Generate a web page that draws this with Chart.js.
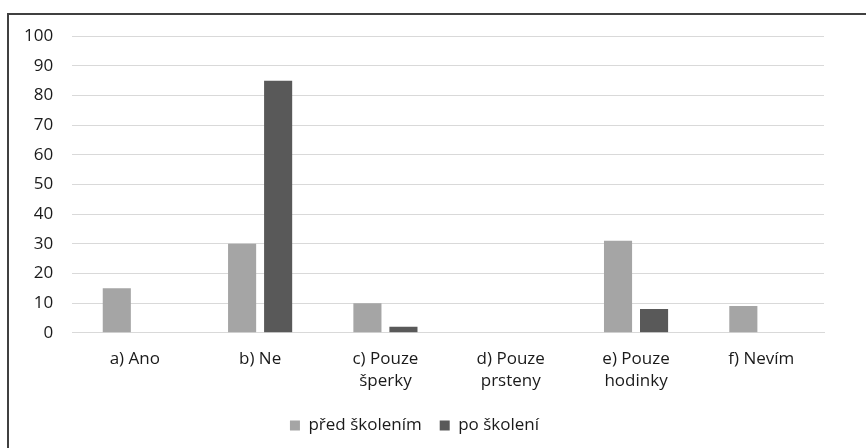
<!DOCTYPE html>
<html>
<head>
<meta charset="utf-8">
<script src="https://cdn.jsdelivr.net/npm/chart.js@4/dist/chart.umd.min.js"></script>
<style>
  html, body { margin: 0; padding: 0; background: #fff; overflow: hidden; }
  #frame {
    position: absolute; left: 7px; top: 13px;
    width: 859px; height: 435px;
    border-left: 2px solid #404040; border-top: 2px solid #404040;
    box-sizing: border-box;
  }
  #wrap { position: absolute; left: -17px; top: -8px; width: 867px; height: 437px; }
</style>
</head>
<body>
<div id="frame"><div id="wrap"><canvas id="c"></canvas></div></div>
<script>
const categories = [
  "a) Ano",
  "b) Ne",
  ["c) Pouze", "šperky"],
  ["d) Pouze", "prsteny"],
  ["e) Pouze", "hodinky"],
  "f) Nevím"
];
const seriesNames = ["před školením", "po školení"];
const beforeTraining = [15, 30, 10, 0, 31, 9];
const afterTraining = [0, 85, 2, 0, 8, 0];
const yTicks = [0, 10, 20, 30, 40, 50, 60, 70, 80, 90, 100];

const fontFamily = "'Open Sans', 'Noto Sans', sans-serif";
const textColor = '#1a1a1a';

new Chart(document.getElementById('c'), {
  type: 'bar',
  data: {
    labels: categories,
    datasets: [
      { label: seriesNames[0], data: beforeTraining, backgroundColor: '#a5a5a5',
        categoryPercentage: 0.575, barPercentage: 0.78 },
      { label: seriesNames[1], data: afterTraining, backgroundColor: '#595959',
        categoryPercentage: 0.575, barPercentage: 0.78 }
    ]
  },
  options: {
    responsive: true,
    maintainAspectRatio: false,
    animation: false,
    layout: { padding: { left: 13, right: 35, top: 1, bottom: 0 } },
    plugins: {
      tooltip: { enabled: false },
      legend: {
        position: 'bottom',
        labels: {
          color: textColor,
          font: { family: fontFamily, size: 17 },
          boxWidth: 10, boxHeight: 10, padding: 18
        }
      }
    },
    scales: {
      x: {
        grid: { display: false },
        border: { color: '#d9d9d9', width: 1 },
        ticks: {
          color: textColor, font: { family: fontFamily, size: 17, lineHeight: 1.3 },
          maxRotation: 0, autoSkip: false, padding: 7
        }
      },
      y: {
        min: yTicks[0], max: yTicks[yTicks.length - 1],
        afterBuildTicks: (axis) => { axis.ticks = yTicks.map(v => ({ value: v })); },
        grid: { color: '#d9d9d9', lineWidth: 1, drawTicks: false },
        border: { display: false },
        ticks: {
          color: textColor, font: { family: fontFamily, size: 17 },
          padding: 19
        }
      }
    }
  }
});
</script>
</body>
</html>
